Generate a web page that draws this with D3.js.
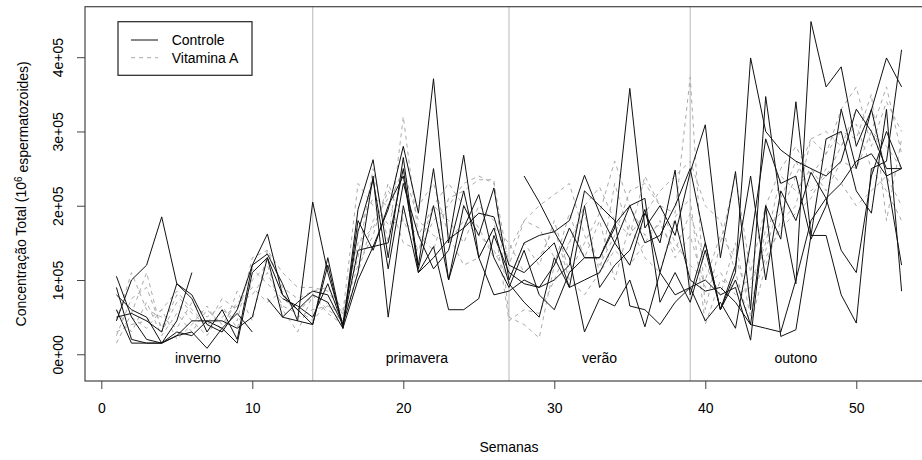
<!DOCTYPE html>
<html>
<head>
<meta charset="utf-8">
<script src="https://d3js.org/d3.v7.min.js"></script>
<style>
  html, body { margin: 0; padding: 0; background: #fff; }
  body { width: 922px; height: 460px; overflow: hidden; }
  svg text { font-family: 'Liberation Sans', Arial, Helvetica, sans-serif; font-size: 14px; fill: #000; }
</style>
</head>
<body>
<div id="chart"></div>
<script>
// semanas 1..53 ; valores em milhares de espermatozoides (x 10^6)
var semanas = d3.range(1, 54);

// grupo controle (linhas continuas)
var controle1 = [105, 50, 20, 15, 45, 110, null, null, null, null, 75, 50, 45, 205, 110, 40, 140, 145, 195, 280, 190, 371, 150, 268, 130, 80, 85, 100, 90, 120, 170, 130, 130, 170, 358, 170, 200, 160, 245, 309, 130, 246, 60, 347, 200, 95, 448, 360, 387, 280, 329, 399, 360];
var controle2 = [45, 100, 120, 185, 95, 80, 40, 30, 60, 120, 162, 80, 60, 40, 130, 35, 195, 262, 130, 265, 115, 200, 100, 200, 160, 224, 100, 150, 160, 165, 180, 241, 190, 150, 120, 190, 150, 248, 80, 150, 60, 110, 399, 300, 275, 260, 250, 240, 260, 330, 300, 250, 250];
var controle3 = [90, 20, 15, 15, 25, 30, 8, 35, 15, 110, 130, 50, 70, 85, 80, 40, 110, 240, 50, 200, 110, 145, 60, 60, 75, 160, 110, 95, 90, 100, 120, 220, 200, 180, 65, 60, 40, 70, 90, 100, 80, 90, 19, 200, 24, 33, 160, 160, 80, 42, 250, 260, 410];
var controle4 = [60, 15, 15, 15, 25, 45, 45, 35, 55, 30, null, 75, 65, 50, 95, 40, 165, 235, 115, 230, 160, 115, 140, 220, 130, 170, 95, 70, 50, 130, 90, 200, 90, 120, 140, 195, 110, 180, 100, 85, 90, 70, 40, 200, 155, 340, 160, 290, 300, 220, 190, 330, 85];
var controle5 = [50, 55, 45, 30, 95, 75, 30, 60, 20, 120, 135, 95, 45, 40, 120, 35, 180, 140, 200, 240, 120, 250, 100, 170, 215, 130, 90, 140, 80, 60, 110, 130, 130, 175, 200, 210, 70, 110, 70, 140, 60, 120, 240, 100, 220, 180, 245, 210, 140, 110, 240, 300, 250];
var controle6 = [null, null, null, null, null, null, null, null, null, null, null, null, null, null, null, null, null, null, null, null, null, null, null, null, null, null, null, 240, 205, 165, 130, 30, 75, 65, 100, 37, 110, 80, 90, 45, 70, 35, 150, 290, 230, 240, 155, 200, 330, 250, 330, 240, 120];
var controle7 = [80, 60, 50, 15, 30, 25, 45, 45, 35, 50, 130, 80, 60, 80, 70, 35, 100, 145, 150, 250, 110, 130, 155, 170, 190, 185, 120, 110, 130, 150, 90, 100, 110, 150, 200, 150, 160, 200, 250, 150, 60, 100, 40, 35, 30, 100, 180, 210, 230, 260, 270, 240, 250];

// grupo vitamina A (linhas tracejadas)
var vitamina1 = [15, 55, 110, 30, 70, 45, 25, 60, 45, 130, 140, 90, 75, 85, 90, 60, 130, 250, 150, 320, 160, 200, 180, 150, 200, 180, 45, 60, 55, 100, 150, 200, 225, 180, 160, 240, 200, 190, 373, 60, 150, 240, 110, 200, 250, 280, 240, 270, 300, 290, 350, 180, 290];
var vitamina2 = [30, 40, 45, 60, 20, 40, 65, 30, 85, 45, 140, 110, 90, 90, 85, 55, 230, 200, 175, 180, 160, 140, 210, 220, 235, 235, 50, 40, 22, 120, 190, 130, 180, 100, 175, 130, 110, 185, 210, 40, 100, 90, 100, 140, 210, 260, 220, 240, 280, 330, 300, 360, 270];
var vitamina3 = [45, 110, 60, 50, 35, 70, 50, 65, 35, 100, 120, 60, 30, 80, 60, 45, 110, 180, 210, 150, 140, 200, 230, 200, 170, 130, 140, 180, 200, 215, 230, 160, 120, 160, 220, 230, 200, 150, 120, 100, 160, 130, 70, 130, 170, 190, 210, 250, 230, 200, 220, 240, 200];
var vitamina4 = [25, 75, 90, 35, 80, 55, 40, 75, 60, 115, 95, 75, 60, 45, 70, 50, 150, 170, 220, 190, 200, 230, 160, 120, 130, 170, 150, 110, 130, 170, 100, 80, 110, 140, 120, 150, 180, 130, 160, 90, 110, 80, 90, 150, 240, 220, 250, 220, 260, 250, 300, 280, 250];
var vitamina5 = [60, 30, 70, 25, 55, 30, 60, 40, 70, 80, 110, 65, 55, 80, 55, 40, 170, 210, 200, 250, 180, 160, 150, 180, 160, 140, 100, 150, 120, 180, 110, 150, 190, 260, 200, 160, 175, 140, 190, 120, 80, 150, 50, 170, 190, 240, 290, 270, 330, 360, 280, 340, 300];
var vitamina6 = [null, 50, 35, 60, 85, 60, 40, 50, 65, 90, 70, 85, 50, 60, 65, 55, 120, 160, 230, 180, 140, 180, 200, 230, 240, 230, 120, 180, 170, 130, 150, 190, 110, 230, 160, 190, 220, 240, 260, 200, 180, 110, 40, 120, 180, 200, 290, 300, 280, 310, 250, 220, 180];

var gruposControle = [controle1, controle2, controle3, controle4, controle5, controle6, controle7];
var gruposVitamina = [vitamina1, vitamina2, vitamina3, vitamina4, vitamina5, vitamina6];

// estacoes
var divisoes = [14, 27, 39];
var estacoes = ["inverno", "primavera", "verão", "outono"];
var posEstacoes = [6.4, 20.9, 33, 46];

// eixos
var xTicks = [0, 10, 20, 30, 40, 50];
var yTicks = [0, 100, 200, 300, 400];
var yTickLabels = ["0e+00", "1e+05", "2e+05", "3e+05", "4e+05"];
var legendas = ["Controle", "Vitamina A"];

var width = 922, height = 460;
var plot = {left: 85, right: 933, top: 6.7, bottom: 381};

var svg = d3.select("#chart").append("svg")
    .attr("width", width)
    .attr("height", height);

var x = d3.scaleLinear().domain([-1.08, 55.08]).range([plot.left, plot.right]);
var y = d3.scaleLinear().domain([-36, 468]).range([plot.bottom, plot.top]);

// linhas verticais das estacoes
svg.selectAll(".divisao")
    .data(divisoes)
    .enter().append("line")
    .attr("class", "divisao")
    .attr("x1", function(d){ return x(d); })
    .attr("x2", function(d){ return x(d); })
    .attr("y1", plot.top)
    .attr("y2", plot.bottom)
    .attr("stroke", "#c4c4c4")
    .attr("stroke-width", 1.2);

var linha = d3.line()
    .defined(function(d){ return d[1] != null; })
    .x(function(d){ return x(d[0]); })
    .y(function(d){ return y(d[1]); });

function pares(serie){
    return semanas.map(function(s, i){ return [s, serie[i]]; });
}

svg.selectAll(".vitamina")
    .data(gruposVitamina)
    .enter().append("path")
    .attr("class", "vitamina")
    .attr("d", function(d){ return linha(pares(d)); })
    .attr("fill", "none")
    .attr("stroke", "#ababab")
    .attr("stroke-width", 1)
    .attr("stroke-dasharray", "4,4");

svg.selectAll(".controle")
    .data(gruposControle)
    .enter().append("path")
    .attr("class", "controle")
    .attr("d", function(d){ return linha(pares(d)); })
    .attr("fill", "none")
    .attr("stroke", "#111")
    .attr("stroke-width", 1);

// nomes das estacoes
svg.selectAll(".estacao")
    .data(estacoes)
    .enter().append("text")
    .attr("class", "estacao")
    .attr("x", function(d, i){ return x(posEstacoes[i]); })
    .attr("y", y(-5))
    .attr("dy", "0.35em")
    .attr("text-anchor", "middle")
    .text(function(d){ return d; });

// caixa
svg.append("rect")
    .attr("x", plot.left)
    .attr("y", plot.top)
    .attr("width", plot.right - plot.left)
    .attr("height", plot.bottom - plot.top)
    .attr("fill", "none")
    .attr("stroke", "#444")
    .attr("stroke-width", 1.2);

// eixo x
var xAxis = svg.append("g")
    .attr("transform", "translate(0," + plot.bottom + ")")
    .call(d3.axisBottom(x).tickValues(xTicks).tickSize(8).tickPadding(14).tickFormat(d3.format("d")));
xAxis.select(".domain").remove();
xAxis.selectAll("line").attr("stroke", "#444");
xAxis.selectAll("text").style("font-size", "14px");

// eixo y
var yAxis = svg.append("g")
    .attr("transform", "translate(" + plot.left + ",0)")
    .call(d3.axisLeft(y).tickValues(yTicks).tickSize(8).tickFormat(function(d, i){ return yTickLabels[i]; }));
yAxis.select(".domain").remove();
yAxis.selectAll("line").attr("stroke", "#444");
yAxis.selectAll("text")
    .style("font-size", "14px")
    .attr("x", null)
    .attr("dy", null)
    .attr("text-anchor", "middle")
    .attr("transform", "translate(-22,0) rotate(-90)");

// titulos dos eixos
svg.append("text")
    .attr("x", (plot.left + plot.right) / 2)
    .attr("y", 447)
    .attr("dy", "0.35em")
    .attr("text-anchor", "middle")
    .text("Semanas");

var ylab = svg.append("text")
    .attr("transform", "translate(26," + ((plot.top + plot.bottom) / 2) + ") rotate(-90)")
    .attr("text-anchor", "middle");
ylab.append("tspan").text("Concentração Total (10");
ylab.append("tspan").attr("dy", "-0.45em").style("font-size", "10px").text("6");
ylab.append("tspan").attr("dy", "0.45em").text(" espermatozoides)");

// legenda
var leg = svg.append("g");
leg.append("rect")
    .attr("x", 118).attr("y", 21.7)
    .attr("width", 134).attr("height", 53.6)
    .attr("fill", "#fff")
    .attr("stroke", "#222")
    .attr("stroke-width", 1.2);
var legY = [40, 57.7];
leg.selectAll(".legLine")
    .data(legendas)
    .enter().append("line")
    .attr("x1", 131).attr("x2", 158)
    .attr("y1", function(d, i){ return legY[i]; })
    .attr("y2", function(d, i){ return legY[i]; })
    .attr("stroke", function(d, i){ return i === 0 ? "#111" : "#ababab"; })
    .attr("stroke-dasharray", function(d, i){ return i === 0 ? null : "4,4"; });
leg.selectAll(".legText")
    .data(legendas)
    .enter().append("text")
    .attr("x", 171.7)
    .attr("y", function(d, i){ return legY[i]; })
    .attr("dy", "0.35em")
    .text(function(d){ return d; });
</script>
</body>
</html>
